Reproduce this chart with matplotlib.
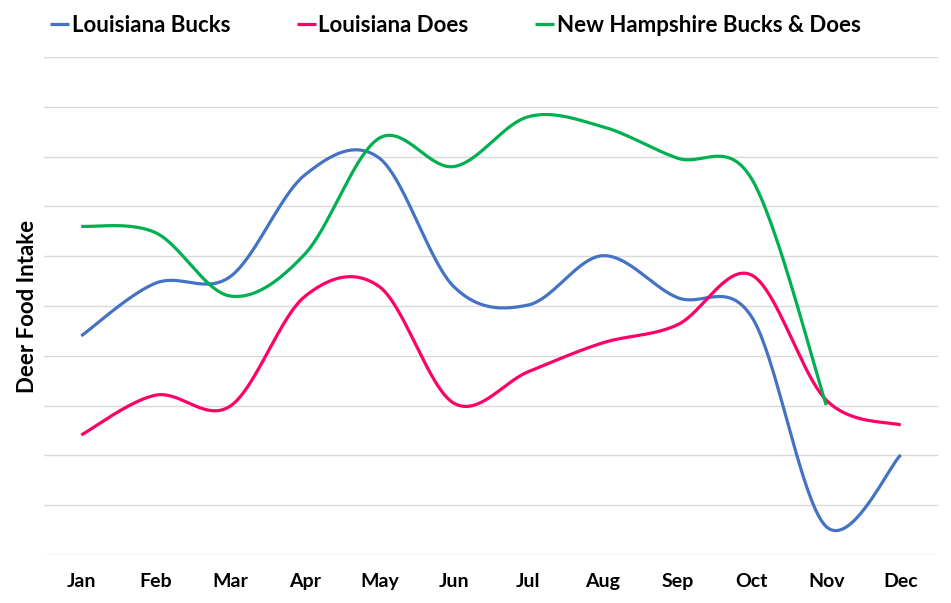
import numpy as np
import matplotlib.pyplot as plt

months = ['Jan', 'Feb', 'Mar', 'Apr', 'May', 'Jun', 'Jul', 'Aug', 'Sep', 'Oct', 'Nov', 'Dec']
la_bucks = [4.40, 5.46, 5.59, 7.63, 7.97, 5.39, 5.02, 6.01, 5.17, 4.78, 0.57, 2.01]
la_does = [2.41, 3.21, 2.99, 5.19, 5.39, 3.05, 3.68, 4.26, 4.62, 5.62, 3.11, 2.61]
nh_all = [6.60, 6.47, 5.20, 6.04, 8.37, 7.80, 8.80, 8.60, 7.97, 7.55, 3.01]


# Excel-style smoothed line (Catmull-Rom turned into cubic Bezier pieces)
def smooth(xs, ys, n=40):
    xs = np.asarray(xs, float)
    ys = np.asarray(ys, float)
    px = np.r_[xs[0], xs, xs[-1]]
    py = np.r_[ys[0], ys, ys[-1]]
    outx, outy = [], []
    t = np.linspace(0, 1, n)
    for i in range(1, len(xs)):
        x0, x1, x2, x3 = px[i - 1], px[i], px[i + 1], px[i + 2]
        y0, y1, y2, y3 = py[i - 1], py[i], py[i + 1], py[i + 2]
        c1x, c1y = x1 + (x2 - x0) / 6, y1 + (y2 - y0) / 6
        c2x, c2y = x2 - (x3 - x1) / 6, y2 - (y3 - y1) / 6
        bx = (1-t)**3*x1 + 3*(1-t)**2*t*c1x + 3*(1-t)*t**2*c2x + t**3*x2
        by = (1-t)**3*y1 + 3*(1-t)**2*t*c1y + 3*(1-t)*t**2*c2y + t**3*y2
        outx.extend(bx)
        outy.extend(by)
    return outx, outy


plt.rcParams['font.family'] = ['Lato', 'DejaVu Sans']

fig = plt.figure(figsize=(9.51, 6.03), dpi=100)
ax = fig.add_axes([0.0463, 0.0796, 0.94, 0.8259])

x = np.arange(len(months))
sx, sy = smooth(x, la_bucks)
ax.plot(sx, sy, color='#4472C4', lw=2.3, label='Louisiana Bucks', solid_capstyle='butt')
sx, sy = smooth(x, la_does)
ax.plot(sx, sy, color='#FF0066', lw=2.3, label='Louisiana Does', solid_capstyle='butt')
sx, sy = smooth(x[:len(nh_all)], nh_all)
ax.plot(sx, sy, color='#00B050', lw=2.3, label='New Hampshire Bucks & Does', solid_capstyle='butt')

ax.set_xlim(-0.5, 11.5)
ax.set_ylim(0, 10)
ax.set_yticks(np.arange(0, 11))
ax.set_yticklabels([])
ax.grid(axis='y', color='#D9D9D9', lw=1)
ax.set_axisbelow(True)
for s in ax.spines.values():
    s.set_visible(False)
ax.tick_params(axis='both', length=0)
ax.set_xticks(x)
ax.set_xticklabels(months, fontsize=14, fontweight='bold')
ax.tick_params(axis='x', pad=13)
ax.set_ylabel('Deer Food Intake', fontsize=16, fontweight='bold')
ax.yaxis.set_label_coords(-0.0065, 0.5)

fig.legend(loc='center', bbox_to_anchor=(0.479, 0.958), ncol=3, frameon=False,
           prop={'size': 16, 'weight': 'bold'}, handlelength=0.85,
           handletextpad=0.12, columnspacing=3.0)

plt.savefig('out.png', dpi=100)
